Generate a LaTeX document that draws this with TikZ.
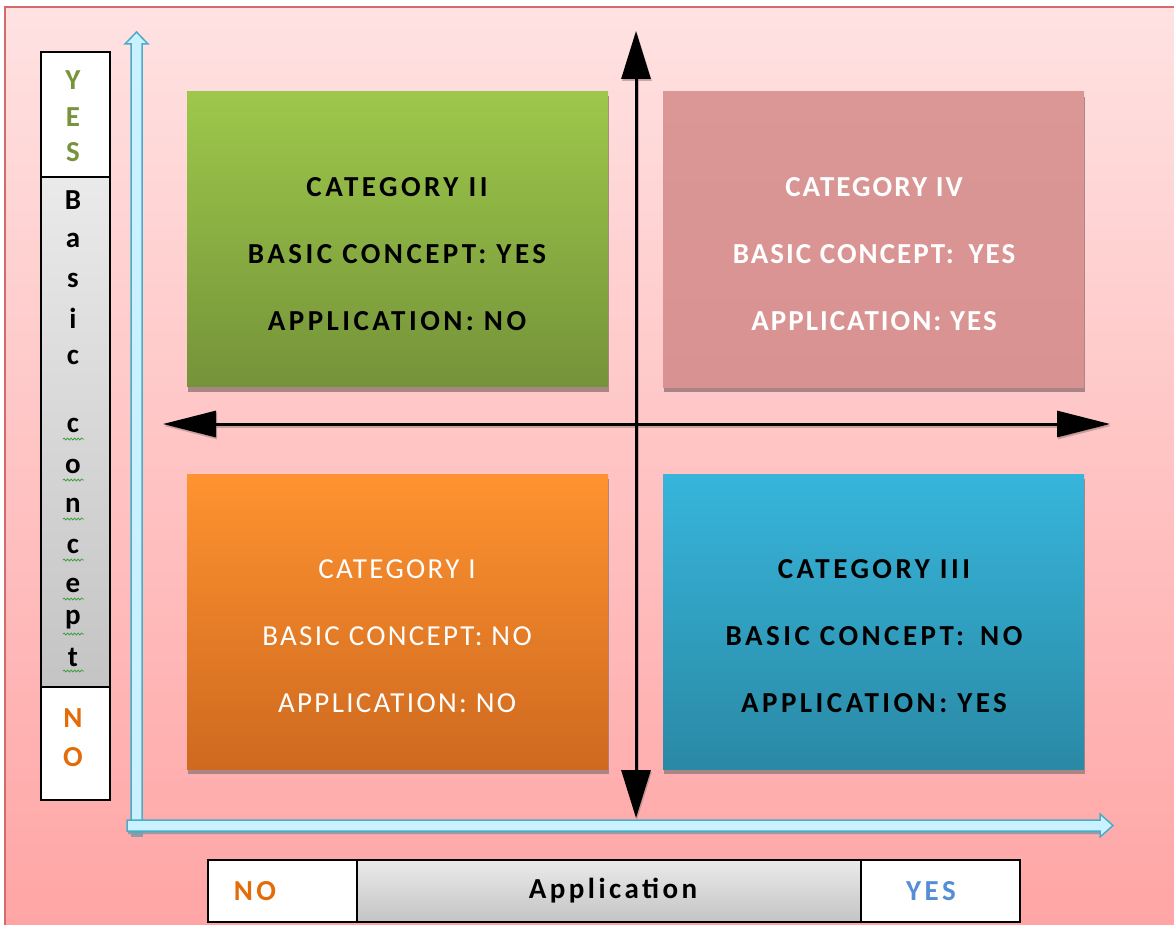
\documentclass[tikz,border=0pt]{standalone}
\usepackage{fontspec}
\setmainfont{Carlito}
\newfontfamily\spacedfont[LetterSpace=12]{Carlito}
\newfontfamily\lightspaced[LetterSpace=8]{Carlito}
\newfontfamily\tightbold[LetterSpace=7]{Carlito}
\usetikzlibrary{arrows.meta,decorations.pathmorphing,shadows}

\definecolor{bgtop}{HTML}{FFE2E2}
\definecolor{bgbot}{HTML}{FFA4A4}
\definecolor{framered}{HTML}{D46A6A}
\definecolor{greentop}{HTML}{9DC84B}
\definecolor{greenbot}{HTML}{759339}
\definecolor{rosetop}{HTML}{DA9796}
\definecolor{rosebot}{HTML}{D89291}
\definecolor{orangetop}{HTML}{FF9330}
\definecolor{orangebot}{HTML}{CE691F}
\definecolor{bluetop}{HTML}{37B5DB}
\definecolor{bluebot}{HTML}{2A89A5}
\definecolor{boxshadow}{HTML}{A98585}
\definecolor{axisfill}{HTML}{C9F1FF}
\definecolor{axisedge}{HTML}{4BACC6}
\definecolor{axisshadow}{HTML}{4F8FA3}
\definecolor{greytop}{HTML}{EAEAEA}
\definecolor{greybot}{HTML}{C4C4C4}
\definecolor{yesgreen}{HTML}{77933C}
\definecolor{noorange}{HTML}{E36C09}
\definecolor{yesblue}{HTML}{558ED5}
\definecolor{squiggle}{HTML}{3FA03F}

\tikzset{
  quad/.style={rectangle, minimum width=421pt, minimum height=295pt, inner sep=0pt,
    drop shadow={shadow xshift=1pt, shadow yshift=-5pt, fill=boxshadow, opacity=1}},
  qtext/.style={align=center, font=\spacedfont\bfseries\fontsize{29}{67}\selectfont},
  qtextlight/.style={align=center, font=\lightspaced\fontsize{29}{67}\selectfont},
  qtexttight/.style={align=center, font=\tightbold\bfseries\fontsize{29}{67}\selectfont},
  lblcell/.style={rectangle, draw=black, line width=2pt, inner sep=0pt},
  lbltext/.style={font=\bfseries\fontsize{29}{34}\selectfont},
  rowtext/.style={font=\spacedfont\bfseries\fontsize{29}{34}\selectfont},
  axis/.style={fill=axisfill, draw=axisedge, line width=1.5pt, line join=miter},
  axisshade/.style={fill=axisshadow, opacity=0.6},
  crossarrow/.style={line width=3pt, black},
  wavy/.style={draw=squiggle, line width=0.8pt,
    decorate, decoration={snake, amplitude=1pt, segment length=3.5pt}}
}

\begin{document}
\begin{tikzpicture}[x=1pt, y=-1pt]
\useasboundingbox (0,0) rectangle (1174,925);
\fill[white] (0,0) rectangle (1174,925);

% page background with frame
\shade[top color=bgtop, bottom color=bgbot] (5,7) rectangle (1190,940);
\draw[framered, line width=1.5pt] (1190,7) -- (5,7) -- (5,940);

% quadrant boxes
\node[quad, top color=greentop, bottom color=greenbot] (q2) at (397.5,239) {};
\node[quad, top color=rosetop, bottom color=rosebot] (q4) at (873.5,239.5) {};
\node[quad, top color=orangetop, bottom color=orangebot] (q1) at (397.5,621.5) {};
\node[quad, top color=bluetop, bottom color=bluebot] (q3) at (873.5,621.5) {};

\node[qtext, black] (t2) at (397,254) {CATEGORY II\\BASIC CONCEPT: YES\\APPLICATION: NO};
\node[qtexttight, white] (t4) at (874,254) {CATEGORY IV\\BASIC CONCEPT:\hspace{6pt} YES\\APPLICATION: YES};
\node[qtextlight, white] (t1) at (397,636) {CATEGORY I\\BASIC CONCEPT: NO\\APPLICATION: NO};
\node[qtext, black] (t3) at (874,636) {CATEGORY III\\BASIC CONCEPT:\hspace{6pt} NO\\APPLICATION: YES};

% crossing double-headed arrows
\coordinate (vtop) at (636,31);
\coordinate (vbot) at (636,818);
\coordinate (hleft) at (163,424);
\coordinate (hright) at (1110,424);
\draw[crossarrow, boxshadow, opacity=0.6, {Triangle[length=48pt,width=29pt]}-{Triangle[length=48pt,width=29pt]}]
  ([shift={(1,2)}]vtop) -- ([shift={(1,2)}]vbot);
\draw[crossarrow, boxshadow, opacity=0.6, {Triangle[length=53pt,width=26pt]}-{Triangle[length=53pt,width=26pt]}]
  ([shift={(1,2)}]hleft) -- ([shift={(1,2)}]hright);
\draw[crossarrow, {Triangle[length=48pt,width=29pt]}-{Triangle[length=48pt,width=29pt]}] (vtop) -- (vbot);
\draw[crossarrow, {Triangle[length=53pt,width=26pt]}-{Triangle[length=53pt,width=26pt]}] (hleft) -- (hright);

% block axes
\fill[axisshade] (131,834) rectangle (143,837);
\fill[axisshade] (128,831) -- (1100,831) -- (1101,834) -- (128,834) -- cycle;
\filldraw[axis] (131,832) -- (131,44) -- (125,44) -- (136.5,32) -- (148,44) -- (142,44) -- (142,832) -- cycle;
\filldraw[axis] (127,820) -- (1100,820) -- (1100,814) -- (1113,825.5) -- (1100,837) -- (1100,831) -- (127,831) -- cycle;

% vertical label column
\node[lblcell, fill=white, minimum width=69pt, minimum height=125pt] (yescell) at (75.5,114.5) {};
\node[lblcell, top color=greytop, bottom color=greybot, minimum width=69pt, minimum height=510pt] (bccell) at (75.5,432) {};
\node[lblcell, fill=white, minimum width=69pt, minimum height=113pt] (nocell) at (75.5,743.5) {};
\foreach \ch/\yy in {Y/80, E/117, S/152}
  \node[lbltext, yesgreen] at (73,\yy) {\ch};
\foreach \ch/\yy in {B/200, a/240, s/280, i/318, c/357}
  \node[lbltext, black] at (73,\yy) {\ch};
\foreach \ch/\yy in {c/425, o/466, n/505, c/546, e/585, p/620, t/657}
  {\node[lbltext, black] at (73,\yy) {\ch};
   \draw[wavy] (63,\yy+14) -- (84,\yy+14);}
\foreach \ch/\yy in {N/718, O/757}
  \node[lbltext, noorange] at (73,\yy) {\ch};

% horizontal label row
\node[lblcell, fill=white, minimum width=149pt, minimum height=62pt] (nobox) at (282.5,891) {};
\node[lblcell, top color=greytop, bottom color=greybot, minimum width=504pt, minimum height=62pt] (appbox) at (609,891) {};
\node[lblcell, fill=white, minimum width=159pt, minimum height=62pt] (yesbox) at (940.5,891) {};
\node[rowtext, noorange] at (255,891) {NO};
\node[rowtext, black] at (613,891) {Application};
\node[rowtext, yesblue] at (931,891) {YES};
\end{tikzpicture}
\end{document}
